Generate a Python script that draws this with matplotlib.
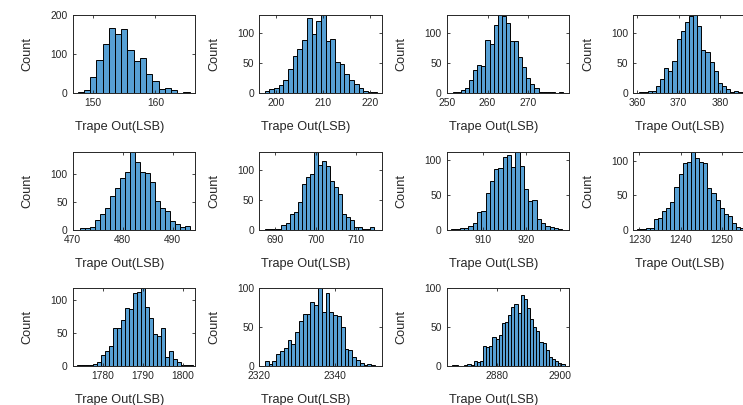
import numpy as np
import matplotlib
matplotlib.use("Agg")
import matplotlib.pyplot as plt

plt.rcParams['font.family'] = ['Liberation Sans', 'DejaVu Sans']

# ---------------- data (bin centers start at *_start, bin width 1) ----------------
p1_start = 148
p1_counts = [3, 8, 40, 84, 126, 166, 152, 163, 110, 83, 89, 49, 31, 11, 13, 8, 1, 3]
p2_start = 198
p2_counts = [3, 7, 8, 14, 22, 40, 61, 74, 88, 125, 99, 120, 130, 87, 90, 52, 48, 32, 22, 15, 9, 3, 2, 1]
p3_start = 252
p3_counts = [1, 2, 5, 8, 21, 38, 47, 45, 88, 82, 114, 130, 128, 116, 87, 87, 60, 44, 25, 15, 8, 2, 2, 2, 1, 0, 1]
p4_start = 361
p4_counts = [1, 1, 4, 4, 12, 23, 42, 37, 54, 90, 104, 118, 128, 130, 111, 71, 68, 51, 37, 17, 12, 6, 2, 3, 2, 1, 1]
p5_start = 472
p5_counts = [3, 3, 5, 17, 28, 39, 61, 75, 93, 104, 141, 122, 104, 102, 86, 52, 39, 33, 16, 10, 5, 7]
p6_start = 688
p6_counts = [1, 1, 1, 2, 8, 12, 26, 29, 46, 77, 88, 93, 130, 108, 115, 106, 82, 71, 59, 26, 22, 17, 5, 5, 1, 1, 4]
p7_start = 903
p7_counts = [1, 1, 2, 3, 5, 10, 25, 27, 52, 70, 87, 88, 104, 107, 90, 112, 92, 58, 41, 42, 15, 10, 6, 4, 2, 1]
p8_start = 1230
p8_counts = [1, 1, 3, 3, 15, 17, 27, 32, 40, 63, 81, 97, 99, 114, 105, 99, 98, 61, 54, 43, 32, 23, 20, 10, 4, 2, 1, 1]
p9_start = 1774
p9_counts = [1, 1, 1, 1, 3, 6, 17, 23, 31, 57, 57, 69, 87, 86, 111, 112, 118, 89, 72, 48, 45, 57, 14, 23, 11, 6, 1, 1, 1]
p10_start = 2322
p10_counts = [6, 2, 6, 16, 19, 23, 33, 28, 44, 58, 67, 67, 82, 78, 100, 69, 93, 69, 66, 64, 50, 22, 20, 12, 8, 4, 1, 2, 1]
p11_start = 2866
p11_counts = [1, 1, 0, 0, 1, 3, 1, 6, 5, 7, 26, 25, 26, 37, 35, 40, 55, 56, 66, 76, 80, 68, 91, 86, 74, 60,
              50, 45, 31, 30, 20, 12, 9, 6, 4, 2]

starts = [p1_start, p2_start, p3_start, p4_start, p5_start, p6_start,
          p7_start, p8_start, p9_start, p10_start, p11_start]
counts = [p1_counts, p2_counts, p3_counts, p4_counts, p5_counts, p6_counts,
          p7_counts, p8_counts, p9_counts, p10_counts, p11_counts]

xticks = [[150, 160], [200, 210, 220], [250, 260, 270], [360, 370, 380],
          [470, 480, 490], [690, 700, 710], [910, 920], [1230, 1240, 1250],
          [1780, 1790, 1800], [2320, 2340], [2880, 2900]]
yticks = [[0, 100, 200]] + [[0, 50, 100]] * 10
xlims = [(146.7, 166.4), (196.3, 222.4), (250, 280), (359, 388.7),
         (470, 494.5), (685.9, 716.4), (901.4, 930.1), (1228.5, 1258.3),
         (1772.4, 1803), (2320, 2352.2), (2863.9, 2903)]
ylims = [200, 130, 130, 130, 141, 130, 112, 114, 118, 100, 100]

xlabel_text = "Trape Out(LSB)"
ylabel_text = "Count"

# ---------------- layout ----------------
W, H = 743, 405
fig = plt.figure(figsize=(W / 100, H / 100), dpi=100)
col_left = [72.7, 259, 446.7, 633.3]
row_top = [15, 151.7, 288]
aw, ah = 122.5, 78

face = '#57A0D4'
axc = '#262626'

for i in range(11):
    r, c = divmod(i, 4)
    l = col_left[c]
    t = row_top[r]
    ax = fig.add_axes([l / W, 1 - (t + ah) / H, aw / W, ah / H])
    cnt = np.array(counts[i])
    centers = starts[i] + np.arange(len(cnt))
    ax.bar(centers, cnt, width=1.0, align='center', color=face,
           edgecolor='black', linewidth=0.7)
    ax.set_xlim(*xlims[i])
    ax.set_ylim(0, ylims[i])
    ax.set_xticks(xticks[i])
    ax.set_yticks(yticks[i])
    ax.tick_params(direction='in', top=True, right=True, length=2.5, width=0.6,
                   labelsize=7.4, colors=axc, pad=3.5)
    for s in ax.spines.values():
        s.set_color(axc)
        s.set_linewidth(0.7)
    ax.set_xlabel(xlabel_text, fontsize=9.2, color=axc, va='center', ha='center')
    ax.xaxis.set_label_coords(0.38, -34 / ah)
    ax.set_ylabel(ylabel_text, fontsize=9.2, color=axc, va='center')
    ax.yaxis.set_label_coords(-45 / aw, 0.5)

fig.savefig('out.png', dpi=100)
